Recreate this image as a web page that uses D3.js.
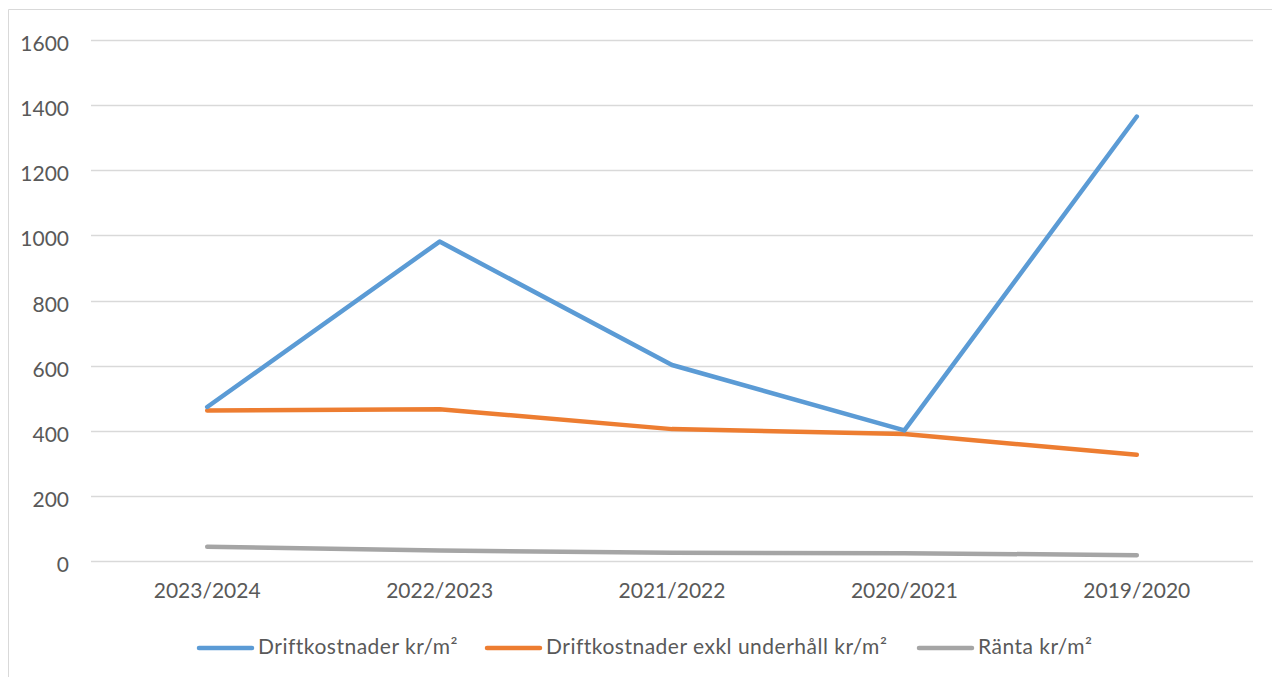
<!DOCTYPE html>
<html><head><meta charset="utf-8">
<script src="https://cdn.jsdelivr.net/npm/d3@7"></script>
<style>
html,body{margin:0;padding:0;background:#fff;}
svg text{font-family:Lato,"Open Sans",sans-serif;fill:#595959;}
</style></head>
<body>
<svg id="chart" width="1272" height="677"></svg>
<script>
const categories = ["2023/2024","2022/2023","2021/2022","2020/2021","2019/2020"];
const drift = [473, 981, 602, 401, 1365];
const driftExkl = [462, 466, 405, 390, 326];
const ranta = [44, 32, 25, 24, 18];
const yTicks = [0,200,400,600,800,1000,1200,1400,1600];
const seriesNames = ["Driftkostnader kr/m²","Driftkostnader exkl underhåll kr/m²","Ränta kr/m²"];
const colors = ["#5b9bd5","#ed7d31","#a5a5a5"];

const svg = d3.select("#chart");
// outer border
svg.append("path").attr("d","M8.5,677 V9.5 H1272").attr("fill","none").attr("stroke","#d9d9d9").attr("stroke-width",1);

const x = d3.scalePoint().domain(categories).range([91,1253]).padding(0.5);
const y = d3.scaleLinear().domain([0,1600]).range([561,40]);

// gridlines
svg.append("g").selectAll("line").data(yTicks).join("line")
  .attr("x1",91).attr("x2",1253)
  .attr("y1",d=>Math.round(y(d))+0.5).attr("y2",d=>Math.round(y(d))+0.5)
  .attr("stroke","#d9d9d9").attr("stroke-width",1.3);

// y labels
svg.append("g").selectAll("text").data(yTicks).join("text")
  .attr("x",69).attr("y",d=>y(d)+11).attr("text-anchor","end")
  .attr("font-size",21).text(d=>d);

// x labels
svg.append("g").selectAll("text").data(categories).join("text")
  .attr("x",d=>x(d)).attr("y",598).attr("text-anchor","middle")
  .attr("font-size",21).text(d=>d);

const all = [drift, driftExkl, ranta];
const line = d3.line().x((d,i)=>x(categories[i])).y(d=>y(d));
[2,1,0].forEach(k=>{
  svg.append("path").datum(all[k]).attr("d",line)
    .attr("fill","none").attr("stroke",colors[k]).attr("stroke-width",4.5)
    .attr("stroke-linejoin","round").attr("stroke-linecap","round");
});

// legend
const legX = [199, 487, 919];
const lg = svg.append("g");
seriesNames.forEach((n,i)=>{
  lg.append("line").attr("x1",legX[i]).attr("x2",legX[i]+53).attr("y1",648).attr("y2",648)
    .attr("stroke",colors[i]).attr("stroke-width",4.5).attr("stroke-linecap","round");
  lg.append("text").attr("x",legX[i]+59).attr("y",654).attr("font-size",21)
    .attr("letter-spacing",0.5).text(n);
});
</script>
</body></html>
